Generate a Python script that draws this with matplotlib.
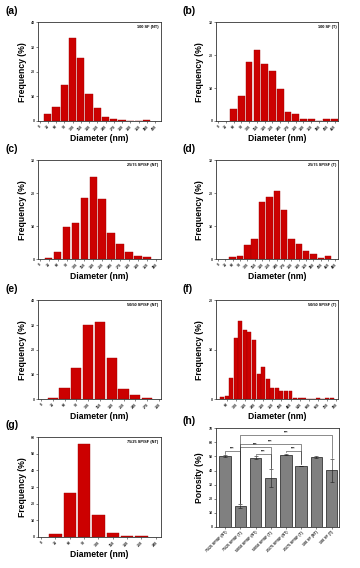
import matplotlib
matplotlib.use('Agg')
import matplotlib.pyplot as plt
import numpy as np

plt.rcParams['font.family'] = ['Liberation Sans', 'DejaVu Sans']

# ---- histogram data (bin centres in nm, frequency in %) ----
a_centers = [30, 60, 90, 120, 150, 180, 210, 240, 270, 300, 330, 360, 390]
a_freq = [2.8, 5.8, 14.8, 33.5, 25.5, 10.8, 5.2, 1.5, 0.8, 0.5, 0, 0, 0.5]

b_centers = [60, 90, 120, 150, 180, 210, 240, 270, 300, 330, 360, 390, 420, 450]
b_freq = [3.5, 7.7, 18.0, 21.5, 17.3, 15.2, 9.7, 2.8, 2.1, 0.7, 0.7, 0, 0.7, 0.7]

c_centers = [30, 60, 90, 120, 150, 180, 210, 240, 270, 300, 330, 360]
c_freq = [0.4, 2.0, 9.7, 11.0, 18.5, 25.0, 18.2, 7.8, 4.7, 2.0, 1.0, 0.7]

d_centers = [60, 90, 120, 150, 180, 210, 240, 270, 300, 330, 360, 390, 420, 450]
d_freq = [0.7, 1.0, 4.3, 6.0, 17.5, 19.0, 20.7, 15.0, 6.0, 4.6, 2.4, 1.6, 0.3, 1.0]

e_centers = [30, 60, 90, 120, 150, 180, 210, 240, 270]
e_freq = [0.5, 4.5, 12.5, 30.2, 31.2, 16.5, 4.2, 1.5, 0.5]

f_centers = [30, 60, 90, 120, 150, 180, 210, 240, 270, 300, 330, 360, 390,
             420, 450, 480, 510, 540, 570, 600, 630, 660, 690, 720, 750]
f_freq = [0.4, 0.7, 4.3, 12.3, 15.8, 14.0, 13.7, 12.0, 5.1, 6.5, 4.0, 2.3, 2.3,
          1.7, 1.7, 1.7, 0.3, 0.3, 0.3, 0, 0, 0.3, 0, 0.3, 0.3]

g_centers = [30, 60, 90, 120, 150, 180, 210]
g_freq = [1.5, 26.5, 56.0, 13.0, 2.5, 0.8, 0.5]

# ---- porosity data ----
samples = ['75/25 SP/SF (NT)', '75/25 SP/SF (T)', '50/50 SP/SF (NT)', '50/50 SP/SF (T)',
           '25/75 SP/SF (NT)', '25/75 SP/SF (T)', '100 SF (NT)', '100 SF (T)']
porosity = [50.2, 15.0, 49.0, 34.5, 51.3, 43.2, 49.5, 40.2]
porosity_err = [0.6, 1.3, 1.0, 6.5, 0.5, 0.3, 0.5, 8.0]
# significance pairs (bar i, bar j, bracket height)
sig_pairs = [(0, 1, 53.5), (2, 3, 51.5), (4, 5, 54.0),
             (1, 3, 56.5), (1, 5, 59.0), (1, 7, 65.0)]

RED = '#CC0000'
TICK_FS = 2.6
LABEL_FS = 6.2

fig = plt.figure(figsize=(3.6, 5.68), dpi=100)

W = 0.34
H = 0.1735
left_col = 0.106
right_col = 0.600


def style_axes(ax):
    for s in ax.spines.values():
        s.set_linewidth(0.6)
        s.set_color('#333333')
    ax.tick_params(direction='out', length=1.6, width=0.4, pad=0.8,
                   labelsize=TICK_FS, colors='#222222')
    for lab in ax.get_xticklabels() + ax.get_yticklabels():
        lab.set_fontweight('bold')


def hist_panel(rect, centers, freq, xticks, xlim, ylim, yticks, tag, letter):
    ax = fig.add_axes(rect)
    ax.bar(centers, freq, width=26, color=RED, edgecolor='#A00000', linewidth=0.3)
    ax.set_xlim(*xlim)
    ax.set_ylim(*ylim)
    ax.set_xticks(xticks)
    ax.set_xticklabels([str(t) for t in xticks], rotation=45, ha='right',
                       rotation_mode='anchor')
    ax.set_yticks(yticks)
    ax.set_xlabel('Diameter (nm)', fontsize=LABEL_FS, fontweight='bold', labelpad=2)
    ax.set_ylabel('Frequency (%)', fontsize=LABEL_FS, fontweight='bold', labelpad=3)
    ax.text(0.985, 0.975, tag, transform=ax.transAxes, ha='right', va='top',
            fontsize=2.8, fontweight='bold')
    style_axes(ax)
    x0 = rect[0] - 0.092
    y1 = rect[1] + rect[3] + 0.012
    fig.text(x0, y1, letter, fontsize=7.5, fontweight='bold', ha='left', va='bottom')
    return ax


row_bottoms = [0.787, 0.544, 0.2975, 0.0546]

hist_panel([left_col, row_bottoms[0], W, H], a_centers, a_freq,
           list(range(0, 421, 30)), (-5, 440), (0, 40), [0, 10, 20, 30, 40],
           '100 SF (NT)', '(a)')
hist_panel([right_col, row_bottoms[0], W, H], b_centers, b_freq,
           list(range(0, 451, 30)), (-8, 465), (0, 30), [0, 10, 20, 30],
           '100 SF (T)', '(b)')
hist_panel([left_col, row_bottoms[1], W, H], c_centers, c_freq,
           list(range(0, 391, 30)), (-5, 405), (0, 30), [0, 10, 20, 30],
           '25/75 SP/SF (NT)', '(c)')
hist_panel([right_col, row_bottoms[1], W, H], d_centers, d_freq,
           list(range(0, 481, 30)), (-8, 492), (0, 30), [0, 10, 20, 30],
           '25/75 SP/SF (T)', '(d)')
hist_panel([left_col, row_bottoms[2], W, H], e_centers, e_freq,
           list(range(0, 301, 30)), (-7, 304), (0, 40), [0, 10, 20, 30, 40],
           '50/50 SP/SF (NT)', '(e)')
hist_panel([right_col, row_bottoms[2], W, H], f_centers, f_freq,
           list(range(60, 781, 60)), (-10, 795), (0, 20), [0, 10, 20],
           '50/50 SP/SF (T)', '(f)')
hist_panel([left_col, row_bottoms[3], W, 0.176], g_centers, g_freq,
           list(range(0, 241, 30)), (-6, 250), (0, 60), list(range(0, 61, 10)),
           '75/25 SP/SF (NT)', '(g)')

# ---- (h) porosity bar chart ----
axh = fig.add_axes([right_col, 0.0722, 0.342, 0.174])
x = np.arange(len(samples))
axh.bar(x, porosity, width=0.75, color='#808080', edgecolor='#1a1a1a', linewidth=0.5)
axh.errorbar(x, porosity, yerr=porosity_err, fmt='none', ecolor='#1a1a1a',
             elinewidth=0.4, capsize=1.2, capthick=0.4)
axh.set_xlim(-0.6, 7.5)
axh.set_ylim(0, 70)
axh.set_yticks(range(0, 71, 10))
axh.set_xticks(x)
axh.set_xticklabels(samples, rotation=45, ha='right', rotation_mode='anchor')
axh.set_ylabel('Porosity (%)', fontsize=LABEL_FS, fontweight='bold', labelpad=3)
style_axes(axh)

for i, j, h in sig_pairs:
    bi = porosity[i] + porosity_err[i] + 1.0
    bj = porosity[j] + porosity_err[j] + 1.0
    axh.plot([i, i, j, j], [bi, h, h, bj], color='#333333', lw=0.4)
    axh.text((i + j) / 2, h + 0.3, '***', ha='center', va='bottom',
             fontsize=2.8, fontweight='bold')

fig.text(right_col - 0.092, 0.0722 + 0.174 + 0.0035, '(h)', fontsize=7.5,
         fontweight='bold', ha='left', va='bottom')

fig.savefig('out.png', dpi=100)
